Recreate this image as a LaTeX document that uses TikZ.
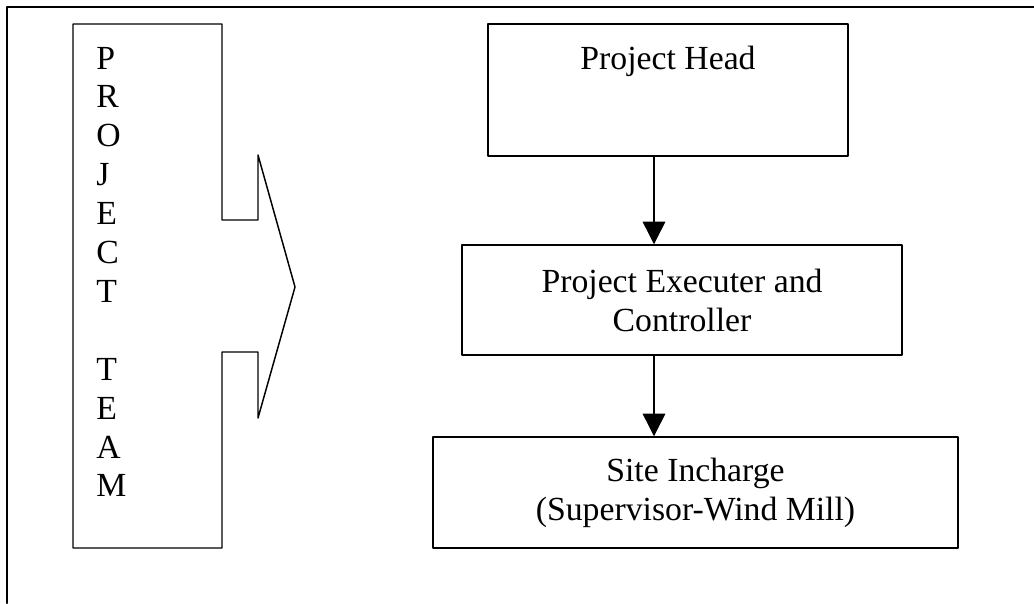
\documentclass[tikz,border=0pt]{standalone}
\usepackage{fontspec}
\setmainfont{Liberation Serif}
\usepackage{tikz}
\usetikzlibrary{arrows.meta, calc, positioning}

\tikzset{
    orgbox/.style={draw, line width=1.1pt, inner sep=0pt, align=center,
        font=\fontsize{25.3}{29.2}\selectfont},
    letter/.style={inner sep=0pt, anchor=base west,
        font=\fontsize{25.3}{29.2}\selectfont},
    flow/.style={->, line width=1pt}
}

\begin{document}
\begin{tikzpicture}[line cap=round, line join=round, >={Triangle[width=17pt,length=17pt]}, x=0.75pt, y=-0.75pt]
    	\useasboundingbox (0,0) rectangle (1034,603);
    	
    	% outer frame, top and left side only
		\draw [line width=2.2pt] (1034,7)--(7,7)--(7,603);
    	
    	% team block with the arrow head cut into it
    	\coordinate (T1) at (73,24);
    	\coordinate (T2) at (222,24);
    	\coordinate (T3) at (222,548);
    	\coordinate (T4) at (73,548);
    	\coordinate (N1) at (258,220);
    	\coordinate (N2) at (258,352);
    	\coordinate (Tip) at (295,287);
    	
		\draw [line width=1.1pt] (T1)--(T2)--(T2 |- N1)--(N1)--(258,155)--(Tip)
			--(258,418)--(N2)--(T2 |- N2)--(T3)--(T4)--cycle;
		
		\foreach \ch/\k in {P/0,R/1,O/2,J/3,E/4,C/5,T/6,T/8,E/9,A/10,M/11}
			\node [letter] (l\k) at (96,69+38.9*\k) {\ch};
    	
    	% chain of posts
		\node [orgbox, minimum width=270pt, minimum height=99pt,
			text height=33.75pt, text depth=65.25pt] (head) at (668,90) {Project Head};
		\node [orgbox, minimum width=330pt, minimum height=82.5pt] (exec) at (682,300)
			{Project Executer and\\Controller};
		\node [orgbox, minimum width=393.75pt, minimum height=83.25pt] (site) at (695.5,492.5)
			{Site Incharge\\(Supervisor-Wind Mill)};
    	
    	\coordinate (spine) at (654,0);
		\draw [flow] (head.south -| spine)--(exec.north -| spine);
		\draw [flow] (exec.south -| spine)--(site.north -| spine);
    \end{tikzpicture}
\end{document}
